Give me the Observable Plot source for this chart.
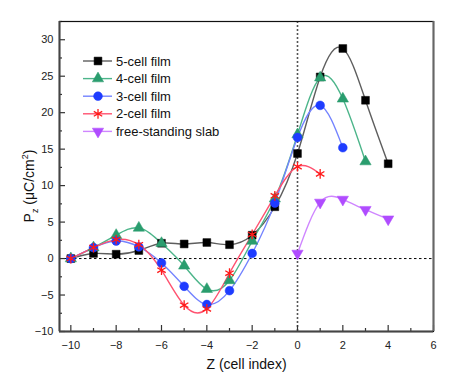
<!DOCTYPE html>
<html>
<head>
<meta charset="utf-8">
<script src="https://cdn.jsdelivr.net/npm/d3@7"></script>
<script src="https://cdn.jsdelivr.net/npm/@observablehq/plot@0.6"></script>
<style>
  html, body { margin: 0; padding: 0; background: #fff; }
  svg { font-family: "Liberation Sans", Arial, sans-serif; }
</style>
</head>
<body>
<div id="chart"></div>
<script>
// ---- data ----
const seriesNames = ["5-cell film", "4-cell film", "3-cell film", "2-cell film", "free-standing slab"];
const z5 = [-10, -9, -8, -7, -6, -5, -4, -3, -2, -1, 0, 1, 2, 3, 4];
const p5 = [0, 0.7, 0.6, 1.1, 2.1, 2.0, 2.2, 1.9, 3.2, 7.1, 14.4, 24.9, 28.8, 21.7, 13.0];
const z4 = [-10, -9, -8, -7, -6, -5, -4, -3, -2, -1, 0, 1, 2, 3];
const p4 = [0, 1.5, 3.2, 4.2, 2.1, -1.0, -4.2, -3.0, 2.4, 8.2, 17.0, 24.8, 21.9, 13.3];
const z3 = [-10, -9, -8, -7, -6, -5, -4, -3, -2, -1, 0, 1, 2];
const p3 = [0, 1.5, 2.4, 1.6, -0.6, -3.8, -6.3, -4.4, 0.7, 7.6, 16.6, 21.0, 15.2];
const z2 = [-10, -9, -8, -7, -6, -5, -4, -3, -2, -1, 0, 1];
const p2 = [0, 1.5, 2.6, 1.9, -1.6, -6.4, -6.9, -2.0, 3.3, 8.6, 12.6, 11.6];
const zf = [0, 1, 2, 3, 4];
const pf = [0.7, 7.7, 8.1, 6.7, 5.4];

const xTickLabels = [-10, -8, -6, -4, -2, 0, 2, 4, 6];
const xMinorTicks = [-9, -7, -5, -3, -1, 1, 3, 5];
const yTickLabels = [-10, -5, 0, 5, 10, 15, 20, 25, 30];
const yMinorTicks = [-7.5, -2.5, 2.5, 7.5, 12.5, 17.5, 22.5, 27.5, 32.5];

// ---- styles ----
const lineColors = ["#5e5e5e", "#4cb58a", "#7383ff", "#ff5270", "#cf86ff"];
const markColors = ["#000000", "#2a9d6e", "#1e3cff", "#ff1a1a", "#b04cff"];

const triangleDown = {
  draw(context, size) {
    const s3 = Math.sqrt(3);
    const y = -Math.sqrt(size / (s3 * 3));
    context.moveTo(0, -y * 2);
    context.lineTo(-s3 * y, y);
    context.lineTo(s3 * y, y);
    context.closePath();
  }
};
const symbols = ["square", "triangle", "circle", "asterisk", triangleDown];
const radii = [4.4, 4.2, 4.4, 4.6, 4.2];

const series = [[z5, p5], [z4, p4], [z3, p3], [z2, p2], [zf, pf]].map(([zs, ps], i) =>
  zs.map((z, j) => ({z, p: ps[j], s: seriesNames[i]}))
);

const W = 463, H = 388;
const mL = 59, mR = 30, mT = 21, mB = 57;
const innerW = W - mL - mR, innerH = H - mT - mB;

const marks = [];
// zero reference lines
marks.push(Plot.ruleY([0], {stroke: "#000", strokeWidth: 1, strokeDasharray: "2.5,2.5"}));
marks.push(Plot.ruleX([0], {stroke: "#555", strokeWidth: 1.6, strokeDasharray: "2,2"}));
// lines
series.forEach((data, i) => {
  marks.push(Plot.line(data, {x: "z", y: "p", curve: "natural", stroke: lineColors[i], strokeWidth: 1.4}));
});
// markers
series.forEach((data, i) => {
  const isAst = symbols[i] === "asterisk";
  marks.push(Plot.dot(data, {
    x: "z", y: "p", symbol: () => symbols[i], r: radii[i],
    fill: isAst ? "none" : markColors[i],
    stroke: markColors[i], strokeWidth: isAst ? 1.3 : 0.5
  }));
});
// inward ticks
marks.push(Plot.ruleX(xTickLabels, {stroke: "#333", strokeWidth: 1.2, insetTop: innerH - 6}));
marks.push(Plot.ruleX(xMinorTicks, {stroke: "#333", strokeWidth: 1.2, insetTop: innerH - 3}));
marks.push(Plot.ruleY(yTickLabels, {stroke: "#333", strokeWidth: 1.2, insetRight: innerW - 6}));
marks.push(Plot.ruleY(yMinorTicks, {stroke: "#333", strokeWidth: 1.2, insetRight: innerW - 3}));
// frame
marks.push(Plot.frame({stroke: "#111", strokeWidth: 1.2}));
marks.push(Plot.ruleX([-10.5], {stroke: "#444", strokeWidth: 2}));
marks.push(Plot.ruleX([6], {stroke: "#666", strokeWidth: 2}));
marks.push(Plot.ruleY([-10], {stroke: "#444", strokeWidth: 2}));
// axes labels
marks.push(Plot.axisX({ticks: xTickLabels, tickSize: 0, tickPadding: 10, fontSize: 11, label: null}));
marks.push(Plot.axisY({ticks: yTickLabels, tickSize: 0, tickPadding: 6, fontSize: 11, label: null}));
marks.push(Plot.text(["Z (cell index)"], {frameAnchor: "bottom", dy: 37, fontSize: 14, fill: "#111"}));

const chart = Plot.plot({
  width: W, height: H,
  marginLeft: mL, marginRight: mR, marginTop: mT, marginBottom: mB,
  x: {domain: [-10.5, 6]},
  y: {domain: [-10, 32.5]},
  style: {fontFamily: '"Liberation Sans", Arial, sans-serif', background: "#fff", color: "#222"},
  marks
});
document.getElementById("chart").appendChild(chart);

// y-axis title with subscript / superscript
const svg = d3.select(chart);
const yt = svg.append("text")
  .attr("transform", "translate(34,186) rotate(-90)")
  .attr("text-anchor", "middle")
  .attr("font-size", 14)
  .attr("fill", "#111");
yt.append("tspan").text("P");
yt.append("tspan").attr("font-size", 9).attr("dy", 4).text("z");
yt.append("tspan").attr("dy", -4).text(" (\u03bcC/cm");
yt.append("tspan").attr("font-size", 9).attr("dy", -6).text("2");
yt.append("tspan").attr("dy", 6).text(")");

// legend
const legend = svg.append("g").attr("text-anchor", "start");
seriesNames.forEach((name, i) => {
  const y = 61 + i * 17.6;
  legend.append("line").attr("x1", 83).attr("x2", 112).attr("y1", y).attr("y2", y)
    .attr("stroke", lineColors[i]).attr("stroke-width", 1.4);
  const symType = typeof symbols[i] === "string"
    ? {square: d3.symbolSquare, triangle: d3.symbolTriangle, circle: d3.symbolCircle, asterisk: d3.symbolAsterisk}[symbols[i]]
    : symbols[i];
  const isAst = symbols[i] === "asterisk";
  legend.append("path")
    .attr("d", d3.symbol(symType, Math.PI * radii[i] * radii[i])())
    .attr("transform", `translate(98,${y})`)
    .attr("fill", isAst ? "none" : markColors[i])
    .attr("stroke", markColors[i]).attr("stroke-width", isAst ? 1.3 : 0.5);
  legend.append("text").attr("x", 116).attr("y", y).attr("dy", "0.35em")
    .attr("text-anchor", "start")
    .attr("font-size", 13).attr("fill", "#111").text(name);
});
</script>
</body>
</html>
